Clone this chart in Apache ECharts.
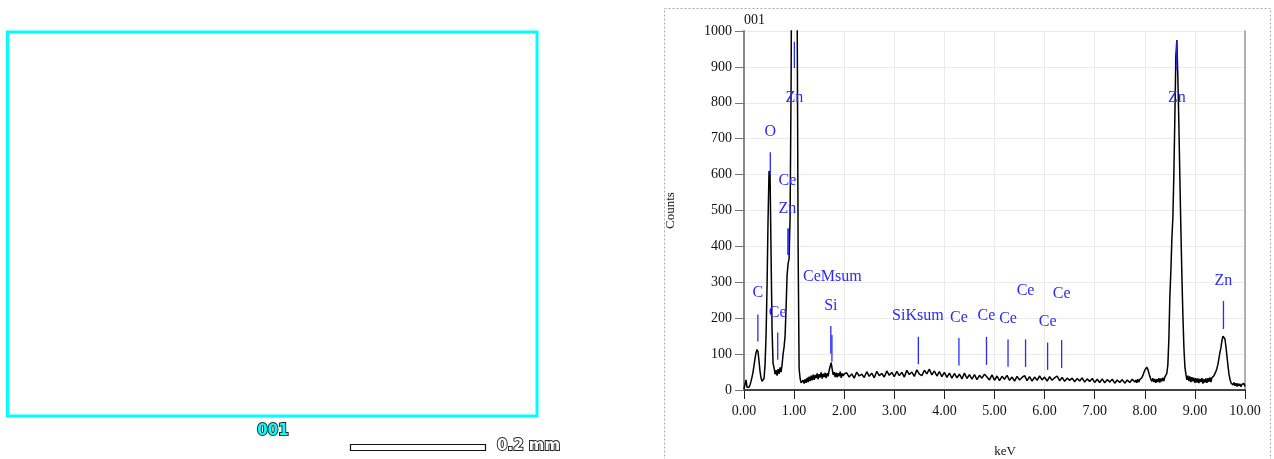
<!DOCTYPE html>
<html>
<head>
<meta charset="utf-8">
<script src="https://cdn.jsdelivr.net/npm/echarts@6/dist/echarts.min.js"></script>
<style>html,body{margin:0;padding:0;background:#fff;}#c{width:1274px;height:459px;}</style>
</head>
<body>
<div id="c"></div>
<script>
// ---- Spectrum data (counts) ----
// Segment A: 0.00 .. 2.00 keV, step 0.02
const startA = 0.00, stepA = 0.02;
const countsA = [
  3, 4, 28, 8, 6, 8, 14, 24, 36, 50,
  68, 88, 104, 113, 106, 80, 52, 34, 24, 19,
  32, 70, 150, 288, 474, 610, 600, 380, 170, 74,
  62, 44, 55, 40, 58, 45, 63, 50, 70, 100,
  120, 150, 230, 320, 352, 366, 480, 850, 1500, 2300,
  2700, 2600, 1900, 1100, 400, 60, 32, 20, 16, 27,
  18, 30, 20, 34, 22, 37, 25, 40, 27, 43,
  28, 42, 33, 46, 30, 44, 35, 49, 32, 45,
  36, 48, 33, 47, 38, 55, 66, 76, 58, 42,
  50, 36, 48, 35, 47, 38, 51, 34, 46, 39,
  45
];
// Segment B: 2.05 .. 7.80 keV, step 0.05
const startB = 2.05, stepB = 0.05;
const countsB = [
  48, 36, 45, 33, 50, 39, 44, 35, 51, 38,
  47, 34, 52, 40, 46, 36, 53, 41, 49, 37,
  52, 40, 49, 36, 55, 43, 50, 38, 56, 44,
  40, 55, 45, 58, 42, 53, 39, 51, 37, 49,
  35, 47, 33, 46, 34, 44, 31, 47, 32, 43,
  30, 43, 29, 41, 33, 44, 36, 28, 42, 27,
  39, 26, 38, 30, 41, 27, 36, 25, 38, 28,
  35, 40, 26, 37, 25, 36, 27, 39, 28, 36,
  25, 37, 27, 34, 39, 26, 35, 24, 33, 27,
  33, 23, 32, 25, 34, 22, 31, 24, 32, 21,
  30, 21, 31, 20, 29, 22, 30, 19, 28, 21,
  29, 19, 28, 21, 30, 22
];
// Segment C: 7.82 .. 10.00 keV, step 0.02
const startC = 7.82, stepC = 0.02;
const countsC = [
  28, 20, 30, 22, 29, 32, 34, 40, 48, 55,
  60, 64, 58, 48, 38, 30, 24, 33, 22, 31,
  20, 30, 22, 33, 21, 32, 24, 34, 25, 36,
  38, 46, 70, 140, 260, 330, 420, 480, 600, 760,
  930, 975, 870, 740, 590, 450, 320, 210, 120, 65,
  44, 28, 40, 25, 38, 22, 36, 24, 34, 20,
  33, 21, 32, 19, 31, 22, 33, 18, 30, 21,
  32, 20, 33, 23, 35, 22, 34, 36, 40, 44,
  52, 60, 72, 88, 105, 118, 138, 150, 153, 142,
  120, 94, 68, 44, 30, 20, 25, 14, 21, 12,
  19, 10, 18, 11, 17, 9, 16, 12, 18, 10
];

// ---- Peak markers ----
const peakKeV      = [0.277, 0.525, 0.673, 0.880, 0.880, 1.005, 1.733, 1.755, 3.48, 4.29, 4.84, 5.27, 5.62, 6.06, 6.34, 8.64, 9.57];
const peakNames    = ['C', 'O', 'Ce', 'Ce', 'Zn', 'Zn', 'Si', 'CeMsum', 'SiKsum', 'Ce', 'Ce', 'Ce', 'Ce', 'Ce', 'Ce', 'Zn', 'Zn'];
const peakLineLow  = [135, 599, 84, 376, 376, 897, 102, 79, 72, 68, 70, 65, 64, 56, 61, 891, 170];
const peakLineHigh = [210, 662, 160, 450, 450, 970, 178, 153, 148, 145, 148, 141, 141, 132, 139, 973, 248];
const peakLabelY   = [270, 718, 216, 582, 505, 815, 235, 314, 206, 200, 207, 198, 276, 190, 267, 814, 304];
const peakLabelKeV = [0.277, 0.525, 0.673, 0.867, 0.867, 1.005, 1.733, 1.765, 3.47, 4.29, 4.84, 5.27, 5.62, 6.06, 6.34, 8.64, 9.57];

// ---- Axis ticks ----
const xMin = 0, xMax = 10, xStep = 1;
const yMin = 0, yMax = 1000, yStep = 100;

function seg(start, step, arr) {
  return arr.map((v, i) => [Math.round((start + i * step) * 1000) / 1000, v]);
}
const spectrum = [].concat(seg(startA, stepA, countsA), seg(startB, stepB, countsB), seg(startC, stepC, countsC));
const markerData = peakKeV.map((k, i) => [k, peakLineLow[i], peakLineHigh[i], peakLabelY[i], i, peakLabelKeV[i]]);

const serif = '"Liberation Serif", "DejaVu Serif", serif';
const blue = '#2a2aff';

const chart = echarts.init(document.getElementById('c'), null, {renderer: 'canvas'});
chart.setOption({
  animation: false,
  backgroundColor: '#ffffff',
  grid: {left: 744, right: 29, top: 31, bottom: 69, show: false},
  xAxis: [{
    type: 'value', min: xMin, max: xMax, interval: xStep, position: 'bottom',
    axisLine: {show: true, onZero: false, lineStyle: {color: '#e6e600', width: 2}},
    axisTick: {show: true, length: 9, lineStyle: {color: '#222', width: 1}},
    axisLabel: {margin: 14, color: '#111', fontFamily: serif, fontSize: 14, formatter: v => v.toFixed(2)},
    splitLine: {show: true, lineStyle: {color: '#ebebeb', width: 1}}
  }, {
    type: 'value', min: xMin, max: xMax, interval: xStep, position: 'top',
    axisLine: {show: true, lineStyle: {color: '#444', width: 2}},
    axisTick: {show: false}, axisLabel: {show: false}, splitLine: {show: false}
  }],
  yAxis: [{
    type: 'value', min: yMin, max: yMax, interval: yStep, position: 'left',
    name: 'Counts', nameLocation: 'middle', nameGap: 67,
    nameTextStyle: {color: '#111', fontFamily: serif, fontSize: 13},
    axisLine: {show: true, onZero: false, lineStyle: {color: '#888', width: 2}},
    axisTick: {show: true, length: 9, lineStyle: {color: '#777', width: 1}},
    axisLabel: {margin: 12, color: '#111', fontFamily: serif, fontSize: 14, formatter: v => String(v)},
    splitLine: {show: true, lineStyle: {color: '#ebebeb', width: 1}}
  }, {
    type: 'value', min: yMin, max: yMax, interval: yStep, position: 'right',
    axisLine: {show: true, onZero: false, lineStyle: {color: '#999', width: 1.5}},
    axisTick: {show: false}, axisLabel: {show: false}, splitLine: {show: false}
  }],
  series: [{
    type: 'line', data: spectrum, showSymbol: false, symbol: 'none', clip: true,
    lineStyle: {color: '#000', width: 1.5}, z: 3
  }, {
    type: 'custom', data: markerData, clip: false, z: 4,
    encode: {x: 0, y: 1},
    renderItem: function (params, api) {
      const k = api.value(0);
      const p1 = api.coord([k, api.value(1)]);
      const p2 = api.coord([k, api.value(2)]);
      const pt = api.coord([api.value(5), api.value(3)]);
      const idx = api.value(4);
      return {
        type: 'group',
        children: [{
          type: 'line',
          shape: {x1: p1[0], y1: p1[1], x2: p2[0], y2: p2[1]},
          style: {stroke: blue, lineWidth: 1.3}
        }, {
          type: 'text',
          style: {text: peakNames[idx], x: pt[0], y: pt[1], fill: blue, font: '16px ' + serif, textAlign: 'center', textVerticalAlign: 'middle'}
        }]
      };
    }
  }],
  graphic: [
    {type: 'rect', shape: {x: 664.5, y: 8.5, width: 606, height: 470}, style: {fill: 'none', stroke: '#aaa', lineWidth: 1, lineDash: [2, 2]}, silent: true, z: 0},
    {type: 'text', style: {text: '001', x: 744, y: 20, fill: '#111', font: '14px ' + serif, textVerticalAlign: 'middle'}},
    {type: 'text', style: {text: 'keV', x: 1005, y: 452, fill: '#111', font: '13px ' + serif, textAlign: 'center', textVerticalAlign: 'middle'}},
    {type: 'rect', shape: {x: 7.5, y: 32, width: 529.5, height: 384}, style: {fill: 'none', stroke: '#00ffff', lineWidth: 3}},
    {type: 'text', style: {text: '001', x: 273, y: 431, fill: '#00ffff', stroke: '#2a2a2a', lineWidth: 2, strokeFirst: true, font: 'bold 15px "DejaVu Sans", sans-serif', textAlign: 'center', textVerticalAlign: 'middle'}},
    {type: 'rect', shape: {x: 350.5, y: 444.5, width: 135, height: 6}, style: {fill: '#fff', stroke: '#111', lineWidth: 1.2}},
    {type: 'text', style: {text: '0.2 mm', x: 497, y: 446, fill: '#ffffff', stroke: '#2a2a2a', lineWidth: 2, strokeFirst: true, font: 'bold 15px "DejaVu Sans", sans-serif', textAlign: 'left', textVerticalAlign: 'middle'}}
  ]
});
</script>
</body>
</html>
